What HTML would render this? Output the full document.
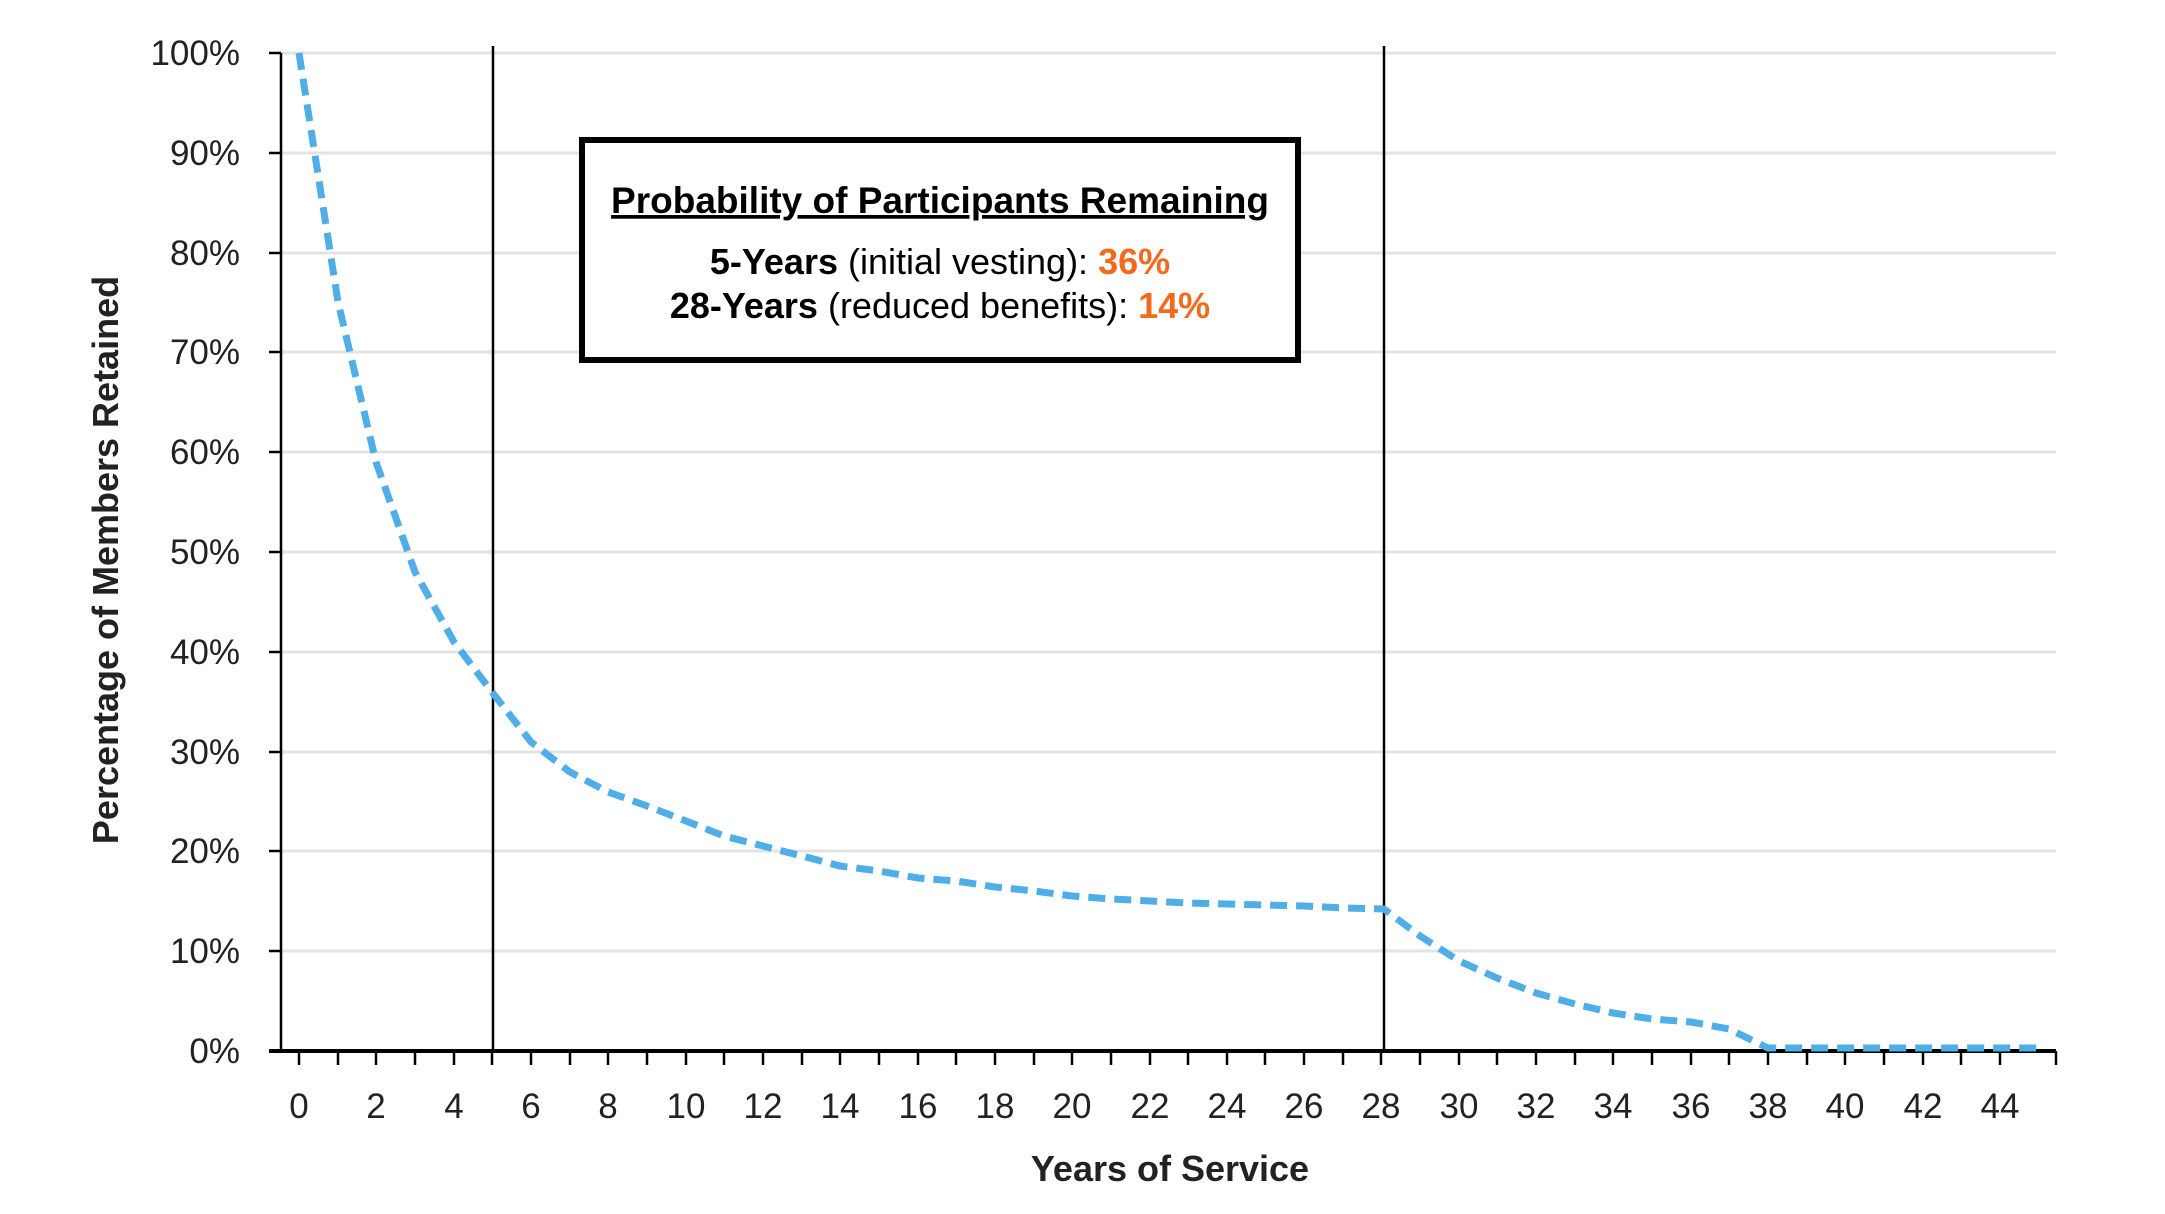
<!DOCTYPE html>
<html><head><style>body{margin:0;background:#fff}svg{display:block}</style></head><body>
<svg width="2165" height="1214" xmlns="http://www.w3.org/2000/svg" font-family="Liberation Sans, sans-serif">
<g stroke="#e3e3e3" stroke-width="3">
<line x1="281" y1="53" x2="2056" y2="53"/><line x1="281" y1="153" x2="2056" y2="153"/><line x1="281" y1="253" x2="2056" y2="253"/><line x1="281" y1="352" x2="2056" y2="352"/><line x1="281" y1="452" x2="2056" y2="452"/><line x1="281" y1="552" x2="2056" y2="552"/><line x1="281" y1="652" x2="2056" y2="652"/><line x1="281" y1="752" x2="2056" y2="752"/><line x1="281" y1="851" x2="2056" y2="851"/><line x1="281" y1="951" x2="2056" y2="951"/>
</g>
<g stroke="#000" stroke-width="2.5">
<line x1="281" y1="53" x2="281" y2="1051"/>
<line x1="269" y1="53" x2="281" y2="53"/><line x1="269" y1="153" x2="281" y2="153"/><line x1="269" y1="253" x2="281" y2="253"/><line x1="269" y1="352" x2="281" y2="352"/><line x1="269" y1="452" x2="281" y2="452"/><line x1="269" y1="552" x2="281" y2="552"/><line x1="269" y1="652" x2="281" y2="652"/><line x1="269" y1="752" x2="281" y2="752"/><line x1="269" y1="851" x2="281" y2="851"/><line x1="269" y1="951" x2="281" y2="951"/><line x1="269" y1="1051" x2="281" y2="1051"/>
<line x1="493" y1="46" x2="493" y2="1051"/>
<line x1="1384" y1="46" x2="1384" y2="1051"/>
</g>
<line x1="269" y1="1051" x2="2056" y2="1051" stroke="#000" stroke-width="4"/>
<path stroke="#000" stroke-width="2.5" d="M299 1051v14M338 1051v14M376 1051v14M415 1051v14M454 1051v14M492 1051v14M531 1051v14M570 1051v14M608 1051v14M647 1051v14M686 1051v14M724 1051v14M763 1051v14M802 1051v14M840 1051v14M879 1051v14M918 1051v14M956 1051v14M995 1051v14M1034 1051v14M1072 1051v14M1111 1051v14M1150 1051v14M1188 1051v14M1227 1051v14M1265 1051v14M1304 1051v14M1343 1051v14M1381 1051v14M1420 1051v14M1459 1051v14M1497 1051v14M1536 1051v14M1575 1051v14M1613 1051v14M1652 1051v14M1691 1051v14M1729 1051v14M1768 1051v14M1807 1051v14M1845 1051v14M1884 1051v14M1923 1051v14M1961 1051v14M2000 1051v14M2056 1051v14"/>
<polyline fill="none" stroke="#4faee8" stroke-width="7" stroke-dasharray="17 9" points="299,53 338,302 376,462 415,572 454,642 492,692 531,742 570,772 608,792 647,806 686,821 724,836 763,846 802,856 840,866 879,871 918,878 956,881 995,887 1034,891 1072,896 1111,899 1150,901 1188,903 1227,904 1265,905 1304,906 1343,908 1384,909 1420,936 1459,961 1497,978 1536,993 1575,1004 1613,1013 1652,1019 1691,1022 1729,1029 1768,1048 1807,1048 1845,1048 1884,1048 1923,1048 1961,1048 2000,1048 2040,1048"/>
<g font-size="35" fill="#222" text-anchor="end">
<text x="240" y="65">100%</text><text x="240" y="165">90%</text><text x="240" y="265">80%</text><text x="240" y="364">70%</text><text x="240" y="464">60%</text><text x="240" y="564">50%</text><text x="240" y="664">40%</text><text x="240" y="764">30%</text><text x="240" y="863">20%</text><text x="240" y="963">10%</text><text x="240" y="1063">0%</text>
</g>
<g font-size="35" fill="#222" text-anchor="middle">
<text x="299" y="1118">0</text><text x="376" y="1118">2</text><text x="454" y="1118">4</text><text x="531" y="1118">6</text><text x="608" y="1118">8</text><text x="686" y="1118">10</text><text x="763" y="1118">12</text><text x="840" y="1118">14</text><text x="918" y="1118">16</text><text x="995" y="1118">18</text><text x="1072" y="1118">20</text><text x="1150" y="1118">22</text><text x="1227" y="1118">24</text><text x="1304" y="1118">26</text><text x="1381" y="1118">28</text><text x="1459" y="1118">30</text><text x="1536" y="1118">32</text><text x="1613" y="1118">34</text><text x="1691" y="1118">36</text><text x="1768" y="1118">38</text><text x="1845" y="1118">40</text><text x="1923" y="1118">42</text><text x="2000" y="1118">44</text>
</g>
<text x="1170" y="1181" font-size="36" font-weight="bold" fill="#222" text-anchor="middle">Years of Service</text>
<text transform="translate(118,560) rotate(-90)" font-size="36" font-weight="bold" fill="#222" text-anchor="middle">Percentage of Members Retained</text>
<rect x="582" y="140" width="716" height="220" fill="#fff" stroke="#000" stroke-width="6"/>
<text x="940" y="213" font-size="37" font-weight="bold" text-anchor="middle" text-decoration="underline">Probability of Participants Remaining</text>
<text x="940" y="274" font-size="36" text-anchor="middle"><tspan font-weight="bold">5-Years</tspan> (initial vesting): <tspan font-weight="bold" fill="#f26a1b">36%</tspan></text>
<text x="940" y="318" font-size="36" text-anchor="middle"><tspan font-weight="bold">28-Years</tspan> (reduced benefits): <tspan font-weight="bold" fill="#f26a1b">14%</tspan></text>
</svg>
</body></html>
